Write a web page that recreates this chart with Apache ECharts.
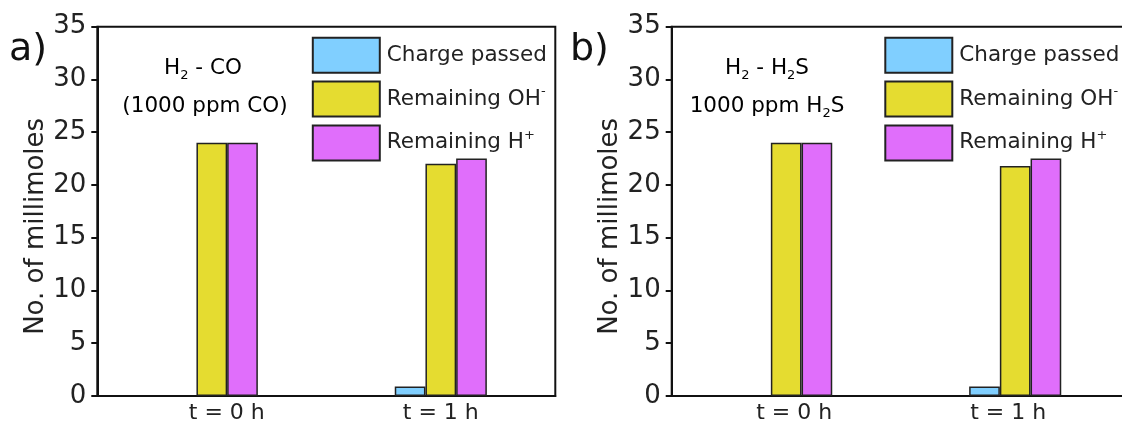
<!DOCTYPE html>
<html>
<head>
<meta charset="utf-8">
<script src="https://cdn.jsdelivr.net/npm/echarts@6/dist/echarts.min.js"></script>
<style>
html,body{margin:0;padding:0;background:#fff;overflow:hidden;}
#c{width:1130px;height:431px;}
</style>
</head>
<body>
<div id="c"></div>
<script>
const categories = ['t = 0 h', 't = 1 h'];
const seriesNames = ['Charge passed', 'Remaining OH-', 'Remaining H+'];
// Panel a) H2 - CO
const chargeA = [null, 0.9];
const ohA = [24, 22];
const hA = [24, 22.5];
// Panel b) H2 - H2S
const chargeB = [null, 0.9];
const ohB = [24, 21.8];
const hB = [24, 22.5];
const yTicks = [0, 5, 10, 15, 20, 25, 30, 35];

const FONT = 'DejaVu Sans';
const FW = 'normal';
const colors = ['#80CFFF', '#E5DC30', '#E06EFB'];
const border = '#222';
const txt = '#222';

const chart = echarts.init(document.getElementById('c'), null, {renderer: 'canvas'});

const richSmall = {
  n: {fontFamily: FONT, fontWeight: FW, fontSize: 21.5, lineHeight: 28, color: txt},
  sup: {fontFamily: FONT, fontWeight: FW, fontSize: 13, lineHeight: 12, verticalAlign: 'top', color: txt},
  sub: {fontFamily: FONT, fontWeight: FW, fontSize: 13, lineHeight: 12, verticalAlign: 'bottom', color: txt}
};

function legendFmt(name) {
  if (name === 'Remaining OH-') return '{n|Remaining OH}{sup|-}';
  if (name === 'Remaining H+') return '{n|Remaining H}{sup|+}';
  return '{n|' + name + '}';
}

function shiftPad(s) {
  return s >= 0 ? [0, 0, 0, 2 * s] : [0, -2 * s, 0, 0];
}
function makeX(gi, shifts) {
  return {
    type: 'category', gridIndex: gi, data: categories,
    axisLine: {lineStyle: {color: '#111', width: 2}},
    axisTick: {show: false},
    axisLabel: {
      fontFamily: FONT, fontWeight: FW, fontSize: 22, color: txt, margin: 6,
      formatter: function (v, i) { return '{s' + i + '|' + v + '}'; },
      rich: {
        s0: {fontFamily: FONT, fontWeight: FW, fontSize: 22, color: txt, padding: shiftPad(shifts[0])},
        s1: {fontFamily: FONT, fontWeight: FW, fontSize: 22, color: txt, padding: shiftPad(shifts[1])}
      }
    },
    splitLine: {show: false}
  };
}
function makeY(gi) {
  return {
    type: 'value', gridIndex: gi, min: yTicks[0], max: yTicks[yTicks.length - 1], interval: 5,
    name: 'No. of millimoles', nameLocation: 'middle', nameGap: 44,
    nameTextStyle: {fontFamily: FONT, fontWeight: FW, fontSize: 26, color: txt, padding: [0, 30, 0, 0]},
    axisLine: {show: true, lineStyle: {color: '#111', width: 2}},
    axisTick: {show: true, inside: false, length: 6, lineStyle: {color: '#111', width: 2}},
    axisLabel: {fontFamily: FONT, fontWeight: FW, fontSize: 26, color: txt, margin: 11},
    splitLine: {show: false}
  };
}
function bar(name, data, ci, gi) {
  return {
    name: name, type: 'bar', xAxisIndex: gi, yAxisIndex: gi, data: data,
    barWidth: 30.7, barGap: '0%',
    itemStyle: {color: colors[ci], borderColor: border, borderWidth: 1.5},
    emphasis: {disabled: true}
  };
}
function makeLegend(left) {
  return {
    orient: 'vertical', left: left, top: 36.8, padding: 0,
    itemWidth: 67, itemHeight: 35, itemGap: 6.8,
    data: seriesNames, icon: 'rect', selectedMode: false,
    formatter: legendFmt,
    textStyle: {fontFamily: FONT, fontWeight: FW, fontSize: 21.5, color: txt, padding: [0, 0, 0, 2], rich: richSmall}
  };
}

const option = {
  animation: false,
  backgroundColor: '#fff',
  grid: [
    {left: 97.3, top: 26.7, width: 458, bottom: 35, show: true, borderColor: '#111', borderWidth: 2},
    {left: 671.7, top: 26.7, width: 458, bottom: 35, show: true, borderColor: '#111', borderWidth: 2}
  ],
  xAxis: [makeX(0, [15, 0]), makeX(1, [8, -7])],
  yAxis: [makeY(0), makeY(1)],
  legend: [makeLegend(311.8), makeLegend(884.3)],
  series: [
    bar(seriesNames[0], chargeA, 0, 0),
    bar(seriesNames[1], ohA, 1, 0),
    bar(seriesNames[2], hA, 2, 0),
    bar(seriesNames[0], chargeB, 0, 1),
    bar(seriesNames[1], ohB, 1, 1),
    bar(seriesNames[2], hB, 2, 1)
  ],
  graphic: [
    {type: 'text', x: 9, y: 50, style: {text: 'a)', font: '38px "DejaVu Sans"', fill: '#111', verticalAlign: 'middle'}},
    {type: 'text', x: 570, y: 50, style: {text: 'b)', font: '38px "DejaVu Sans"', fill: '#111', verticalAlign: 'middle'}},
    {type: 'text', x: 203, y: 68, style: {text: '{n|H}{sub|2}{n| - CO}', rich: richSmall, align: 'center', verticalAlign: 'middle'}},
    {type: 'text', x: 205, y: 106, style: {text: '{n|(1000 ppm CO)}', rich: richSmall, align: 'center', verticalAlign: 'middle'}},
    {type: 'text', x: 767, y: 68, style: {text: '{n|H}{sub|2}{n| - H}{sub|2}{n|S}', rich: richSmall, align: 'center', verticalAlign: 'middle'}},
    {type: 'text', x: 767, y: 106, style: {text: '{n|1000 ppm H}{sub|2}{n|S}', rich: richSmall, align: 'center', verticalAlign: 'middle'}}
  ]
};
chart.setOption(option);
</script>
</body>
</html>
